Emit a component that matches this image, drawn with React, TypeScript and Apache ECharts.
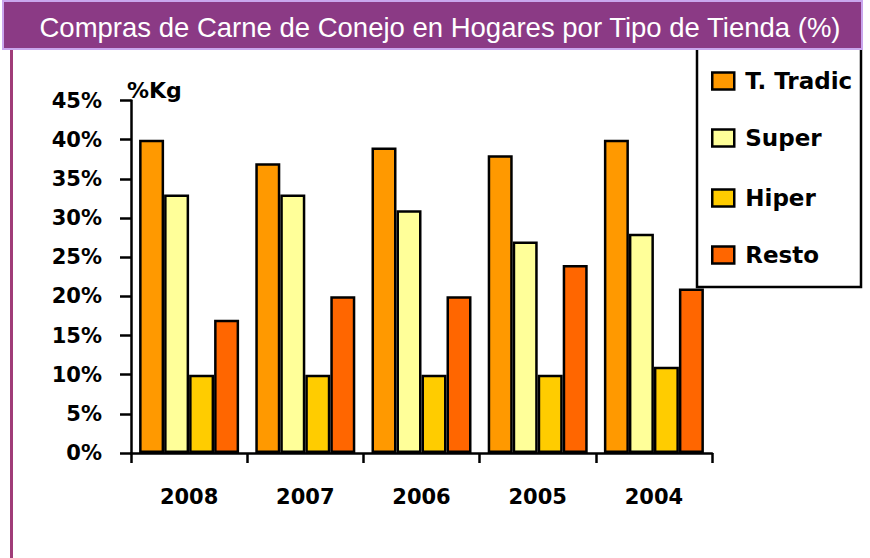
import React, { useEffect, useRef } from "react";
import * as echarts from "echarts";

const categories = ["2008", "2007", "2006", "2005", "2004"];
const seriesNames = ["T. Tradic", "Super", "Hiper", "Resto"];
const tradic = [40, 37, 39, 38, 40];
const superV = [33, 33, 31, 27, 28];
const hiper = [10, 10, 10, 10, 11];
const resto = [17, 20, 20, 24, 21];
const yTicks = [0, 5, 10, 15, 20, 25, 30, 35, 40, 45];
const colors = ["#FF9900", "#FFFF99", "#FFCC00", "#FF6600"];
const titleText = "Compras de Carne de Conejo en Hogares por Tipo de Tienda (%)";

export default function App() {
  const ref = useRef<HTMLDivElement>(null);
  useEffect(() => {
    if (!ref.current) return;
    const chart = echarts.init(ref.current, undefined, { renderer: "svg" });
    const font = "'DejaVu Sans', Verdana, sans-serif";
    const values = [tradic, superV, hiper, resto];
    const legendCenters = [81, 138, 198, 255];
    chart.setOption({
      animation: false,
      backgroundColor: "#ffffff",
      textStyle: { fontFamily: font },
      grid: { left: 131, right: 158, top: 100.5, bottom: 105, containLabel: false },
      xAxis: {
        type: "category",
        data: categories,
        boundaryGap: true,
        axisLine: { lineStyle: { color: "#000", width: 2.5 } },
        axisTick: { show: true, length: 10, lineStyle: { color: "#000", width: 2.5 } },
        axisLabel: { color: "#000", fontSize: 21, fontWeight: "bold", margin: 33, fontFamily: font },
      },
      yAxis: {
        type: "value",
        min: yTicks[0],
        max: yTicks[yTicks.length - 1],
        interval: 5,
        axisLine: { show: true, lineStyle: { color: "#000", width: 2.5 } },
        axisTick: { show: true, length: 11, lineStyle: { color: "#000", width: 2.5 } },
        splitLine: { show: false },
        axisLabel: {
          color: "#000",
          fontSize: 21,
          fontWeight: "bold",
          margin: 29,
          fontFamily: font,
          formatter: (v: number) => v + "%",
        },
      },
      legend: seriesNames.map((n, i) => ({
        data: [n],
        left: 706,
        top: legendCenters[i] - 11.5 - 5,
        orient: "vertical",
        itemWidth: 22,
        itemHeight: 17,
        icon: "rect",
        itemStyle: { borderColor: "#000", borderWidth: 2.5 },
        textStyle: { color: "#000", fontSize: 23, fontWeight: "bold", fontFamily: font, lineHeight: 23, padding: [0, 0, 0, 6] },
        selectedMode: false,
      })),
      series: seriesNames.map((n, i) => ({
        name: n,
        type: "bar",
        data: values[i],
        barWidth: 25,
        barGap: "0%",
        itemStyle: { color: colors[i], borderColor: "#000", borderWidth: 2.5 },
      })),
      graphic: [
        {
          type: "rect",
          shape: { x: 697, y: 46, width: 164, height: 241 },
          style: { fill: "none", stroke: "#000", lineWidth: 2.5 },
          z: 10,
        },
        {
          type: "rect",
          shape: { x: 3, y: 1, width: 859, height: 48 },
          style: { fill: "#8B3A85", stroke: "#C9A6EE", lineWidth: 2 },
          z: 20,
        },
        {
          type: "text",
          x: 440,
          y: 27,
          z: 21,
          style: {
            text: titleText,
            fill: "#ffffff",
            font: "27.5px 'Liberation Sans', Arial, sans-serif",
            align: "center",
            verticalAlign: "middle",
          },
        },
        {
          type: "line",
          shape: { x1: 11.5, y1: 50, x2: 11.5, y2: 558 },
          style: { stroke: "#A03C78", lineWidth: 3 },
          z: 5,
        },
        {
          type: "text",
          x: 127,
          y: 90,
          style: {
            text: "%Kg",
            fill: "#000",
            font: "bold 22px 'DejaVu Sans', Verdana, sans-serif",
            align: "left",
            verticalAlign: "middle",
          },
        },
      ],
    });
    return () => chart.dispose();
  }, []);
  return <div ref={ref} style={{ width: 870, height: 558, position: "fixed", left: 0, top: 0 }} />;
}
